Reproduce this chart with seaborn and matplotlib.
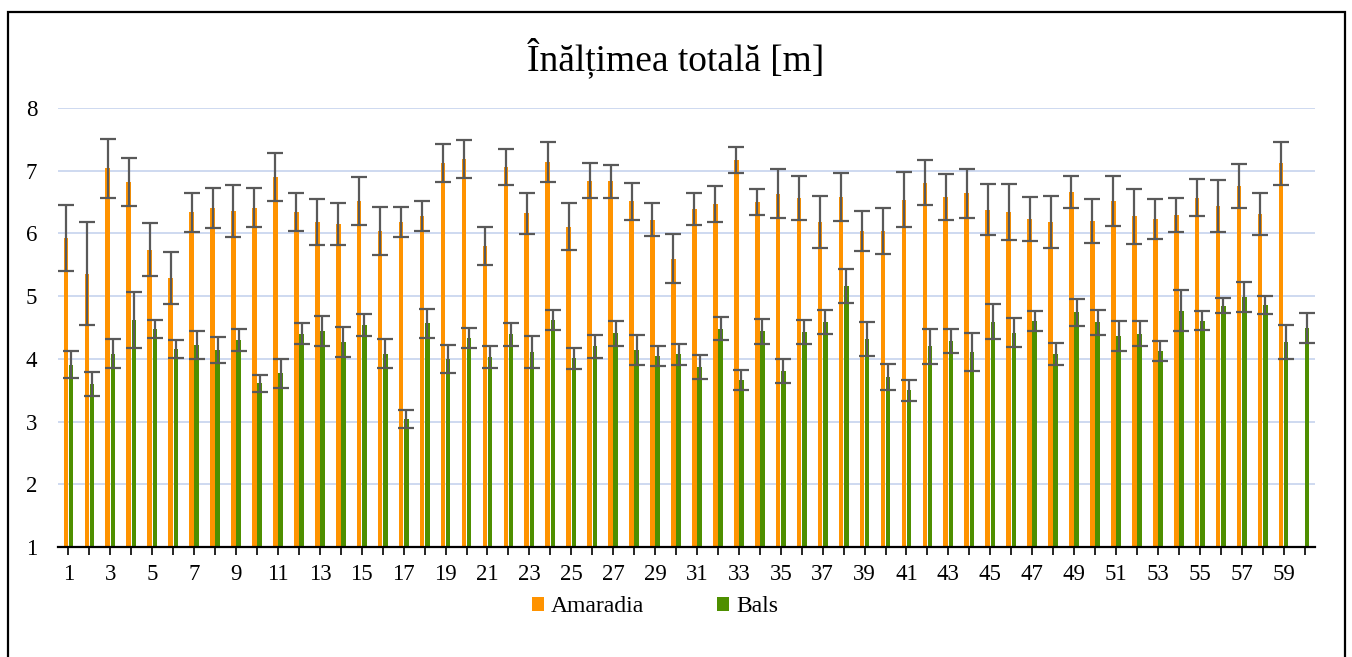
import numpy as np
import pandas as pd
import matplotlib
matplotlib.use("Agg")
import matplotlib.pyplot as plt
import seaborn as sns
from matplotlib.patches import Patch, Rectangle

# categories 1..60
plots = list(range(1, 61))

amaradia = [5.93, 5.36, 7.04, 6.82, 5.74, 5.29, 6.34, 6.41, 6.36, 6.41,
            6.90, 6.34, 6.18, 6.15, 6.52, 6.04, 6.18, 6.28, 7.12, 7.19,
            5.80, 7.06, 6.32, 7.14, 6.11, 6.84, 6.83, 6.51, 6.22, 5.60,
            6.39, 6.47, 7.17, 6.50, 6.63, 6.57, 6.18, 6.58, 6.04, 6.04,
            6.54, 6.81, 6.58, 6.64, 6.38, 6.34, 6.23, 6.18, 6.66, 6.20,
            6.52, 6.27, 6.23, 6.30, 6.57, 6.44, 6.76, 6.31, 7.12, np.nan]
amaradia_err = [0.53, 0.82, 0.47, 0.39, 0.42, 0.41, 0.31, 0.32, 0.42, 0.31,
                0.38, 0.30, 0.37, 0.34, 0.38, 0.38, 0.24, 0.24, 0.30, 0.30,
                0.30, 0.29, 0.33, 0.32, 0.37, 0.28, 0.26, 0.29, 0.26, 0.39,
                0.25, 0.28, 0.21, 0.21, 0.39, 0.35, 0.42, 0.38, 0.32, 0.37,
                0.44, 0.36, 0.36, 0.39, 0.41, 0.45, 0.35, 0.42, 0.26, 0.35,
                0.40, 0.44, 0.32, 0.27, 0.30, 0.41, 0.35, 0.34, 0.34, np.nan]

bals = [3.91, 3.60, 4.08, 4.62, 4.48, 4.16, 4.22, 4.14, 4.30, 3.61,
        3.77, 4.40, 4.45, 4.27, 4.54, 4.08, 3.04, 4.57, 4.00, 4.33,
        4.03, 4.39, 4.11, 4.62, 4.01, 4.20, 4.41, 4.14, 4.04, 4.07,
        3.87, 4.48, 3.67, 4.44, 3.81, 4.43, 4.59, 5.16, 4.32, 3.71,
        3.50, 4.20, 4.28, 4.11, 4.59, 4.42, 4.60, 4.08, 4.74, 4.58,
        4.37, 4.40, 4.12, 4.77, 4.61, 4.85, 4.99, 4.86, 4.27, 4.49]
bals_err = [0.22, 0.19, 0.23, 0.44, 0.14, 0.14, 0.22, 0.21, 0.18, 0.14,
            0.23, 0.17, 0.24, 0.24, 0.17, 0.23, 0.15, 0.23, 0.22, 0.16,
            0.17, 0.18, 0.25, 0.16, 0.17, 0.18, 0.20, 0.24, 0.16, 0.17,
            0.19, 0.18, 0.16, 0.20, 0.19, 0.19, 0.19, 0.27, 0.27, 0.21,
            0.17, 0.28, 0.19, 0.30, 0.28, 0.23, 0.16, 0.18, 0.22, 0.20,
            0.24, 0.20, 0.16, 0.32, 0.15, 0.12, 0.24, 0.15, 0.27, 0.24]

series = ["Amaradia", "Bals"]
colors = ["#ff9300", "#4e8f00"]

df = pd.concat([
    pd.DataFrame({"plot": plots, "value": amaradia, "err": amaradia_err, "site": "Amaradia"}),
    pd.DataFrame({"plot": plots, "value": bals, "err": bals_err, "site": "Bals"}),
])

sns.set_theme(style="white")
plt.rcParams["font.family"] = ["Liberation Serif", "DejaVu Serif"]
plt.rcParams["text.color"] = "black"
plt.rcParams["xtick.color"] = "black"
plt.rcParams["ytick.color"] = "black"

fig = plt.figure(figsize=(13.52, 6.57), dpi=100)
ax = fig.add_axes([58 / 1352, 1 - 547 / 657, (1315 - 58) / 1352, (547 - 108) / 657])

sns.barplot(data=df.dropna(subset=["value"]), x="plot", y="value", hue="site",
            hue_order=series, palette=colors, order=plots, width=0.5, gap=0.12,
            errorbar=None, legend=False, ax=ax, saturation=1, linewidth=0)

# error bars on top of each bar
for cont, s in zip(ax.containers, series):
    sub = df[df["site"] == s].dropna(subset=["value"])
    for bar, e in zip(cont, sub["err"]):
        xc = bar.get_x() + bar.get_width() / 2
        ax.errorbar(xc, bar.get_height(), yerr=e, fmt="none", ecolor="#595959",
                    elinewidth=1.6, capsize=5.5, capthick=1.6, zorder=4)

ax.set_ylim(1, 8)
ax.set_xlim(-0.5, 59.5)
ax.set_yticks(range(1, 9))
ax.yaxis.grid(True, color="#c6d3ee", linewidth=1.2)
ax.set_axisbelow(True)
ax.set_xticks(range(60))
ax.set_xticklabels([str(p) if p % 2 == 1 else "" for p in plots])
ax.tick_params(axis="x", direction="out", length=6, width=1.2, color="black",
               labelsize=16.5, pad=6, bottom=True)
ax.tick_params(axis="y", length=0, labelsize=16.5, pad=15)
ax.set_xlabel("")
ax.set_ylabel("")
for sp in ["left", "right", "top"]:
    ax.spines[sp].set_visible(False)
ax.spines["bottom"].set_color("black")
ax.spines["bottom"].set_linewidth(1.6)

fig.suptitle("Înălțimea totală [m]", y=1 - 58 / 657, va="center", fontsize=27, color="black")

handles = [Patch(facecolor=c, edgecolor="none", label=s) for c, s in zip(colors, series)]
fig.legend(handles=handles, loc="center", bbox_to_anchor=(655 / 1352, 1 - 607 / 657),
           ncol=2, frameon=False, fontsize=17, handlelength=0.5, handleheight=0.5,
           handletextpad=0.3, columnspacing=3.1, labelcolor="black")

fig.add_artist(Rectangle((8 / 1352, -0.05), (1345 - 8) / 1352, 1.05 - 12 / 657,
                         transform=fig.transFigure, fill=False, edgecolor="black",
                         linewidth=1.6))

fig.savefig("out.png", dpi=100)
